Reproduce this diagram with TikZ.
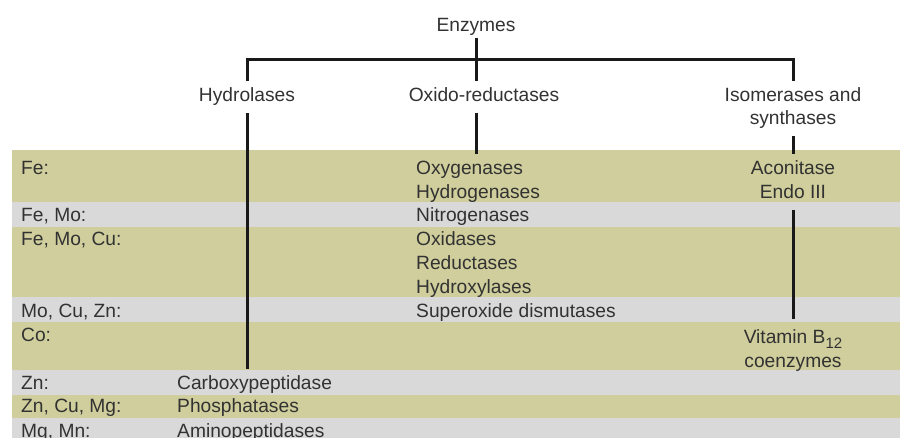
\documentclass[tikz,border=0pt]{standalone}
\usepackage{fontspec}
\setmainfont{Liberation Sans}
\usetikzlibrary{calc}
\definecolor{bandolive}{RGB}{207,206,156}
\definecolor{bandgray}{RGB}{217,217,217}
\definecolor{txtgray}{RGB}{50,50,50}

\begin{document}
\begin{tikzpicture}[x=1pt,y=-1pt]

    \tikzstyle{lbl}+=[
        font=\fontsize{19.2}{24}\selectfont,
        text=txtgray,
        text height=14.4pt,
        text depth=4.8pt,
        inner xsep=0pt,
        inner ysep=6pt
    ]
    \tikzstyle{metal}+=[
        lbl,
        anchor=base west
    ]
    \tikzstyle{enzyme}+=[
        lbl,
        anchor=base west
    ]
    \tikzstyle{centred}+=[
        lbl,
        anchor=base
    ]
    \tikzstyle{tree}+=[
        line width=3pt,
        black!90
    ]

    \useasboundingbox (0,0) rectangle (900,438);

    % ----------------------------------------------------------------------------
    \fill[bandolive] (12,150) rectangle (900,202);
    \fill[bandgray]  (12,202) rectangle (900,227);
    \fill[bandolive] (12,227) rectangle (900,297);
    \fill[bandgray]  (12,297) rectangle (900,322);
    \fill[bandolive] (12,322) rectangle (900,370);
    \fill[bandgray]  (12,370) rectangle (900,395);
    \fill[bandolive] (12,395) rectangle (900,418);
    \fill[bandgray]  (12,418) rectangle (900,438);

    % ----------------------------------------------------------------------------
    \node[centred,inner ysep=1pt] (enz) at (476,32) {Enzymes};
    \node[centred] (hyd) at (247,102) {Hydrolases};
    \node[centred] (oxi) at (484,102) {Oxido-reductases};
    \node[centred] (iso) at (793,102) {Isomerases and};
    \node[centred] (syn) at (793,125) {synthases};
    \coordinate (bar) at (476,60);

    % ----------------------------------------------------------------------------
    \node[metal] (fe)     at (21,175) {Fe:};
    \node[metal] (femo)   at (21,222) {Fe, Mo:};
    \node[metal] (femocu) at (21,246) {Fe, Mo, Cu:};
    \node[metal] (mocuzn) at (21,318) {Mo, Cu, Zn:};
    \node[metal] (co)     at (21,342) {Co:};
    \node[metal] (zn)     at (21,390) {Zn:};
    \node[metal] (zncumg) at (21,413) {Zn, Cu, Mg:};
    \node[metal] (mgmn)   at (21,437) {Mg, Mn:};

    % ----------------------------------------------------------------------------
    \node[enzyme] (oxy)  at (416,175) {Oxygenases};
    \node[enzyme] (hydg) at (416,199) {Hydrogenases};
    \node[enzyme] (nitr) at (416,222) {Nitrogenases};
    \node[enzyme] (oxid) at (416,246) {Oxidases};
    \node[enzyme] (red)  at (416,270) {Reductases};
    \node[enzyme] (hydx) at (416,294) {Hydroxylases};
    \node[enzyme] (sod)  at (416,318) {Superoxide dismutases};
    \node[enzyme] (carb) at (177,390) {Carboxypeptidase};
    \node[enzyme] (phos) at (177,413) {Phosphatases};
    \node[enzyme] (amin) at (177,437) {Aminopeptidases};
    \node[centred] (aco)  at (793,175) {Aconitase};
    \node[centred] (endo) at (793,199) {Endo III};
    \node[centred,inner ysep=10pt] (vit) at (793,344)
        {Vitamin B\raisebox{-5pt}{\fontsize{15}{15}\selectfont 12}};
    \node[centred] (coen) at (793,367) {coenzymes};

    % ----------------------------------------------------------------------------
    \draw[tree] (enz.south) -- (enz.south |- oxi.north);
    \draw[tree] (hyd.north) |- (bar) -| (iso.north);
    \draw[tree] (hyd.south) -- (hyd.south |- carb.north);
    \draw[tree] (enz.south |- oxi.south) -- (enz.south |- oxy.north);
    \draw[tree] (syn.south) -- (aco.north);
    \draw[tree] (endo.south) -- (vit.north);

\end{tikzpicture}
\end{document}
